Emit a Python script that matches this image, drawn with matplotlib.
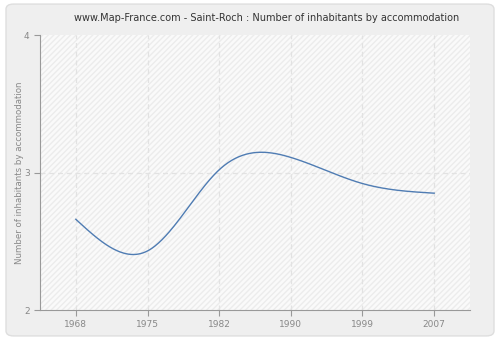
import numpy as np
import matplotlib.pyplot as plt
from matplotlib.patches import FancyBboxPatch, Rectangle

years = ["1968", "1975", "1982", "1990", "1999", "2007"]
inhabitants = [2.66, 2.43, 3.02, 3.11, 2.92, 2.85]
y_ticks = [2, 3, 4]


def natural_spline(x, y, n=300):
    # natural cubic spline, solved with plain numpy
    x = np.asarray(x, float)
    y = np.asarray(y, float)
    k = len(x)
    h = np.diff(x)
    A = np.zeros((k, k))
    r = np.zeros(k)
    A[0, 0] = A[-1, -1] = 1
    for i in range(1, k - 1):
        A[i, i - 1] = h[i - 1]
        A[i, i] = 2 * (h[i - 1] + h[i])
        A[i, i + 1] = h[i]
        r[i] = 3 * ((y[i + 1] - y[i]) / h[i] - (y[i] - y[i - 1]) / h[i - 1])
    c = np.linalg.solve(A, r)
    xs = np.linspace(x[0], x[-1], n)
    idx = np.clip(np.searchsorted(x, xs) - 1, 0, k - 2)
    dx = xs - x[idx]
    b = (y[1:] - y[:-1]) / h - h * (2 * c[:-1] + c[1:]) / 3
    d = (c[1:] - c[:-1]) / (3 * h)
    ys = y[idx] + b[idx] * dx + c[idx] * dx ** 2 + d[idx] * dx ** 3
    return xs, ys


fig = plt.figure(figsize=(5, 3.4), dpi=100)
fig.patch.set_facecolor("white")

# rounded grey panel behind everything
bg = fig.add_axes([0, 0, 1, 1], zorder=-1)
bg.axis("off")
bg.add_patch(FancyBboxPatch((0.012, 0.012), 0.976, 0.976,
                            boxstyle="round,pad=0,rounding_size=0.015",
                            transform=bg.transAxes, facecolor="#efefef",
                            edgecolor="#dedede", linewidth=1))

ax = fig.add_axes([0.08, 0.088, 0.86, 0.809])
ax.set_facecolor("#f9f9f9")
ax.add_patch(Rectangle((0, 0), 1, 1, transform=ax.transAxes, facecolor="#fafafa",
                       edgecolor="#ececec", hatch="//////", linewidth=0, zorder=0))

pos = np.arange(len(years))
xs, ys = natural_spline(pos, inhabitants)
ax.plot(xs, ys, color="#4f7cb3", linewidth=1, zorder=3)

ax.set_xlim(-0.5, len(years) - 0.5)
ax.set_ylim(2, 4)
ax.set_xticks(pos)
ax.set_xticklabels(years)
ax.set_yticks(y_ticks)

for p in pos:
    ax.axvline(p, color="#e2e2e2", linestyle=(0, (4, 3)), linewidth=0.9, zorder=1)
ax.axhline(3, color="#e2e2e2", linestyle=(0, (4, 3)), linewidth=0.9, zorder=1)

for s in ["top", "right"]:
    ax.spines[s].set_visible(False)
for s in ["left", "bottom"]:
    ax.spines[s].set_color("#999999")
ax.tick_params(colors="#999999", labelcolor="#888888", labelsize=6.5, length=4, width=0.8)

ax.set_ylabel("Number of inhabitants by accommodation", fontsize=6.2, color="#888888", labelpad=0)
fig.text(0.534, 0.947, "www.Map-France.com - Saint-Roch : Number of inhabitants by accommodation",
         ha="center", va="center", fontsize=7, color="#333333")

fig.savefig("out.png", dpi=100, facecolor=fig.get_facecolor())
